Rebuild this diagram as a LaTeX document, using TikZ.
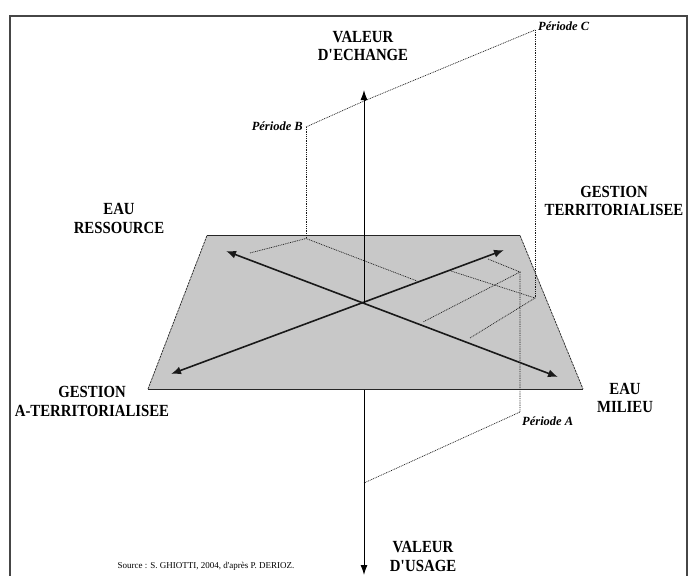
\documentclass[tikz,border=0pt]{standalone}
\usepackage{fontspec}
\setmainfont{Liberation Serif}
\newfontfamily\capfont[FakeStretch=0.87]{Liberation Serif}
\usetikzlibrary{arrows.meta}
\definecolor{planegray}{RGB}{200,200,200}
\definecolor{framegray}{RGB}{70,70,70}
\begin{document}
\begin{tikzpicture}[x=1pt,y=-1pt,
  axislabel/.style={font=\capfont\bfseries\fontsize{17}{18.5}\selectfont, align=center, inner sep=0pt},
  periodlabel/.style={font=\bfseries\itshape\fontsize{12.5}{14}\selectfont, inner sep=0pt},
  sourcelabel/.style={font=\fontsize{9}{10}\selectfont, inner sep=0pt},
  proj/.style={line width=0.7pt, dash pattern=on 0.9pt off 0.9pt, black!90},
  planeside/.style={line width=0.7pt, dash pattern=on 2.5pt off 0.8pt, black!85},
  planeedge/.style={line width=1pt, black!85},
  mainarrow/.style={line width=1.6pt, black!90, {Latex[length=10pt,width=8pt]}-{Latex[length=10pt,width=8pt]}},
  vaxis/.style={line width=1pt, black, -{Latex[length=10pt,width=7pt]}},
  framestyle/.style={line width=2pt, framegray}
]
\useasboundingbox (0,0) rectangle (689,576);
% frame
\coordinate (F1) at (9.5,576);
\coordinate (F2) at (9.5,15.5);
\coordinate (F3) at (686.5,15.5);
\coordinate (F4) at (686.5,576);
\draw[framestyle] (F1) -- (F2) -- (F3) -- (F4);
% plane
\coordinate (TL) at (207,235.5);
\coordinate (TR) at (520,235.5);
\coordinate (BR) at (583,389);
\coordinate (BL) at (148,389);
\fill[planegray] (TL) -- (TR) -- (BR) -- (BL) -- cycle;
\draw[planeedge] (TL) -- (TR);
\draw[planeedge] (BL) -- (BR);
\draw[planeside] (TR) -- (BR);
\draw[planeside] (BL) -- (TL);
% key points
\coordinate (O) at (364,303);
\coordinate (ER) at (226,251);
\coordinate (EM) at (558,377);
\coordinate (GA) at (171,374);
\coordinate (GT) at (504,250);
\coordinate (VE) at (364,90);
\coordinate (VU) at (364,575);
\coordinate (Bedge) at (364,389.5);
% period B
\coordinate (PB) at (306,127);
\coordinate (FB) at (306,238.5);
\coordinate (B1) at (250,253);
\coordinate (B2) at (417,281);
\coordinate (HB) at (364,101);
% period C
\coordinate (PC) at (535,30);
\coordinate (FC) at (535,298);
\coordinate (C1) at (470,338);
\coordinate (C2) at (451,271);
% period A
\coordinate (PA) at (520,412);
\coordinate (FA) at (520,272);
\coordinate (A1) at (423,322);
\coordinate (A2) at (488,259);
\coordinate (HA) at (364,483);
% projection lines
\draw[proj] (PB) -- (HB) -- (PC);
\draw[proj] (PB) -- (FB);
\draw[proj] (B1) -- (FB) -- (B2);
\draw[proj] (PC) -- (FC);
\draw[proj] (C1) -- (FC) -- (C2);
\draw[proj] (A2) -- (FA) -- (A1);
\draw[proj] (FA) -- (PA) -- (HA);
% axes
\draw[mainarrow] (ER) -- (EM);
\draw[mainarrow] (GA) -- (GT);
\draw[vaxis] (O) -- (VE);
\draw[vaxis] (Bedge) -- (VU);
% labels
\node[axislabel] (lve) at (363,46) {VALEUR\\D\textquotesingle ECHANGE};
\node[axislabel] (lvu) at (423,556.5) {VALEUR\\D\textquotesingle USAGE};
\node[axislabel] (ler) at (119,218.5) {EAU\\RESSOURCE};
\node[axislabel] (lgt) at (614,201) {GESTION\\TERRITORIALISEE};
\node[axislabel] (lga) at (92,401.5) {GESTION\\A-TERRITORIALISEE};
\node[axislabel] (lem) at (625,398) {EAU\\MILIEU};
\node[periodlabel, anchor=east] (lpb) at (303,126) {Période B};
\node[periodlabel, anchor=west] (lpc) at (538,26) {Période C};
\node[periodlabel, anchor=west] (lpa) at (522,421) {Période A};
\node[sourcelabel] (src) at (206,566) {Source : S. GHIOTTI, 2004, d\textquotesingle après P. DERIOZ.};
\end{tikzpicture}
\end{document}
